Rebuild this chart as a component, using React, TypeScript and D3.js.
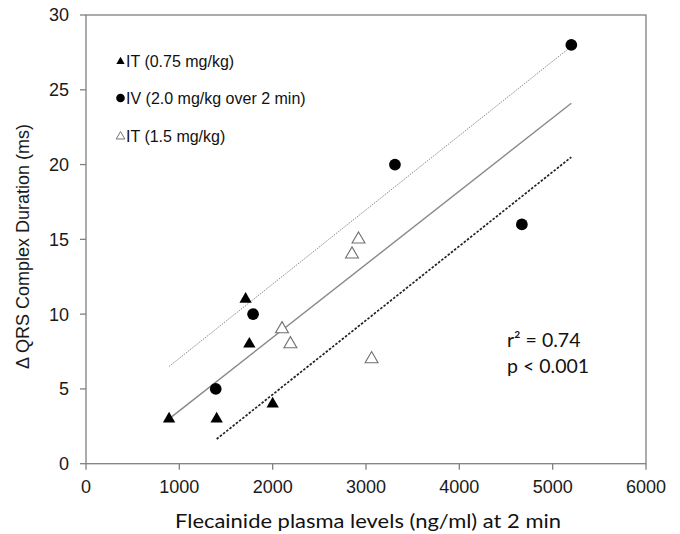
import React from "react";
import * as d3 from "d3";

const xTicks = [0, 1000, 2000, 3000, 4000, 5000, 6000];
const yTicks = [0, 5, 10, 15, 20, 25, 30];

const itLowX = [890, 1400, 1710, 1750, 2000];
const itLowY = [3, 3, 11, 8, 4];
const ivX = [1390, 1790, 3310, 4670, 5200];
const ivY = [5, 10, 20, 16, 28];
const itHighX = [2100, 2190, 2850, 2920, 3060];
const itHighY = [9, 8, 14, 15, 7];

const upperX = [890, 5200];
const upperY = [6.5, 27.9];
const fitX = [890, 5200];
const fitY = [3.0, 24.1];
const lowerX = [1400, 5200];
const lowerY = [1.65, 20.5];

const legendLabels = ["IT (0.75 mg/kg)", "IV (2.0 mg/kg over 2 min)", "IT (1.5 mg/kg)"];

const W = 680;
const H = 534;
const L = 86, R = 646, T = 15, B = 463.7;

export default function App() {
  const x = d3.scaleLinear().domain([0, 6000]).range([L, R]);
  const y = d3.scaleLinear().domain([0, 30]).range([B, T]);
  const line = d3.line<[number, number]>().x((d) => x(d[0])).y((d) => y(d[1]));
  const tri = d3.symbol().type(d3.symbolTriangle);
  const circ = d3.symbol().type(d3.symbolCircle);
  const axisColor = "#808080";
  const arial = "'Liberation Sans', Arial, sans-serif";
  const calibri = "Lato, 'Open Sans', sans-serif";

  const pairs = (xs: number[], ys: number[]) => xs.map((v, i) => [v, ys[i]] as [number, number]);

  return (
    <svg width={W} height={H} style={{ position: "absolute", left: 0, top: 0, background: "#fff" }}>
      <rect x={0} y={0} width={W} height={H} fill="#fff" />
      {/* frame */}
      <rect x={L} y={T} width={R - L} height={B - T} fill="none" stroke={axisColor} strokeWidth={1.3} />
      {/* y ticks */}
      {yTicks.map((t) => (
        <g key={"y" + t}>
          <line x1={L - 6} x2={L} y1={y(t)} y2={y(t)} stroke={axisColor} strokeWidth={1.3} />
          <text x={69} y={y(t)} dy="0.36em" textAnchor="end" fontFamily={arial} fontSize={18} fill="#1a1a1a">
            {t}
          </text>
        </g>
      ))}
      {/* x ticks */}
      {xTicks.map((t) => (
        <g key={"x" + t}>
          <line x1={x(t)} x2={x(t)} y1={B} y2={B + 6} stroke={axisColor} strokeWidth={1.3} />
          <text x={x(t)} y={493} textAnchor="middle" fontFamily={arial} fontSize={18} fill="#1a1a1a">
            {t}
          </text>
        </g>
      ))}
      {/* axis titles */}
      <text
        transform={`translate(29,246.5) rotate(-90)`}
        textAnchor="middle"
        fontFamily={arial}
        fontSize={18}
        fill="#1a1a1a"
      >
        Δ QRS Complex Duration (ms)
      </text>
      <text x={368} y={528} textAnchor="middle" fontFamily={calibri} fontSize={19.5} fill="#111" textLength={386} lengthAdjust="spacingAndGlyphs">
        Flecainide plasma levels (ng/ml) at 2 min
      </text>
      {/* regression lines */}
      <path d={line(pairs(upperX, upperY)) || ""} fill="none" stroke="#8a8a8a" strokeWidth={1} strokeDasharray="1.5,1.2" />
      <path d={line(pairs(fitX, fitY)) || ""} fill="none" stroke="#888" strokeWidth={1.4} />
      <path d={line(pairs(lowerX, lowerY)) || ""} fill="none" stroke="#222" strokeWidth={1.7} strokeDasharray="2.5,1.6" />
      {/* points */}
      {pairs(itHighX, itHighY).map((d, i) => (
        <path key={"h" + i} d={tri.size(72)() || ""} transform={`translate(${x(d[0])},${y(d[1])})`} fill="#fff" stroke="#707070" strokeWidth={1.1} />
      ))}
      {pairs(itLowX, itLowY).map((d, i) => (
        <path key={"l" + i} d={tri.size(66)() || ""} transform={`translate(${x(d[0])},${y(d[1])})`} fill="#000" />
      ))}
      {pairs(ivX, ivY).map((d, i) => (
        <path key={"v" + i} d={circ.size(108)() || ""} transform={`translate(${x(d[0])},${y(d[1])})`} fill="#000" />
      ))}
      {/* legend */}
      {legendLabels.map((lab, i) => {
        const cy = [61, 98, 136][i];
        return (
          <g key={"lg" + i}>
            {i === 0 && <path d={tri.size(30)() || ""} transform={`translate(120.5,${cy + 0.5})`} fill="#000" />}
            {i === 1 && <path d={circ.size(58)() || ""} transform={`translate(120.5,${cy})`} fill="#000" />}
            {i === 2 && <path d={tri.size(32)() || ""} transform={`translate(120.5,${cy + 0.5})`} fill="#fff" stroke="#666" strokeWidth={0.9} />}
            <text x={126} y={cy + 6} fontFamily={arial} fontSize={16} fill="#111">
              {lab}
            </text>
          </g>
        );
      })}
      {/* annotation */}
      <text x={507} y={347} fontFamily={calibri} fontSize={19.5} fill="#111">
        r² = 0.74
      </text>
      <text x={507} y={373} fontFamily={calibri} fontSize={19.5} fill="#111">
        p &lt; 0.001
      </text>
    </svg>
  );
}
